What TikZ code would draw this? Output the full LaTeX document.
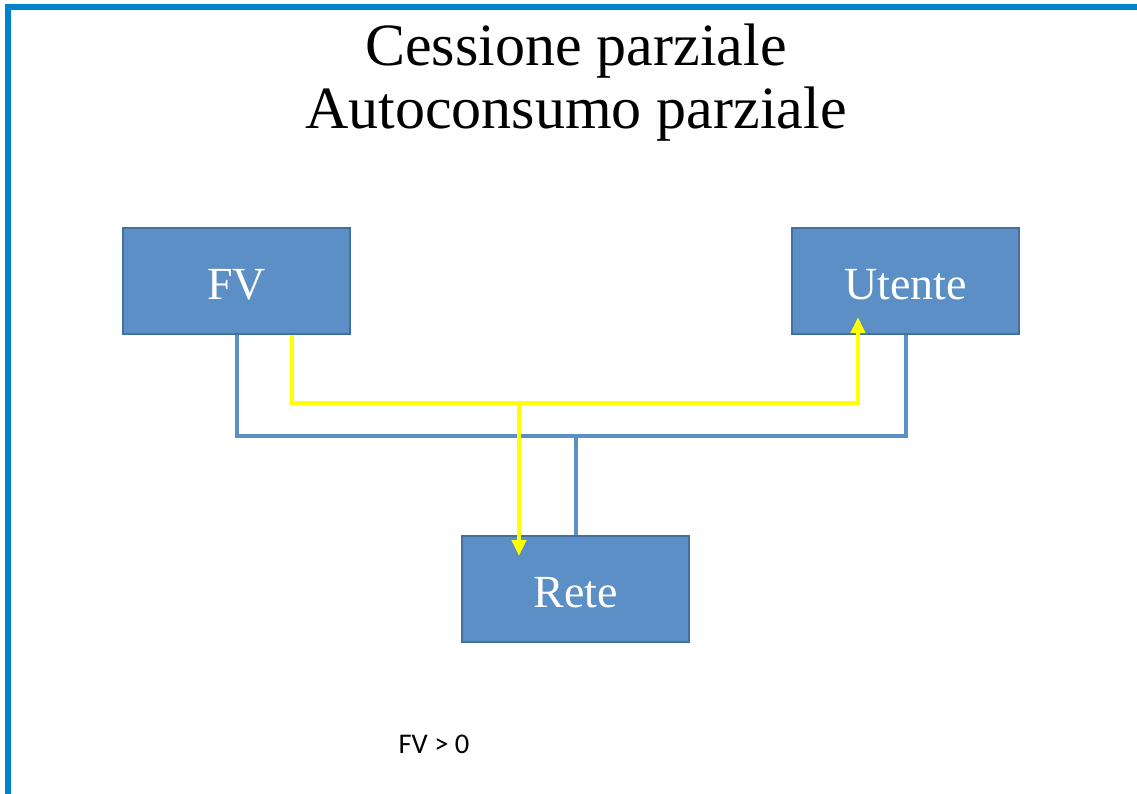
\documentclass[tikz,border=0pt]{standalone}
\usepackage{fontspec}
\setmainfont{Liberation Serif}
\newfontfamily\notefont{Carlito}
\usetikzlibrary{arrows.meta,calc}
\definecolor{frameblue}{HTML}{0083CA}
\definecolor{boxblue}{HTML}{5B8FC6}
\definecolor{boxedge}{HTML}{41719C}
\definecolor{flowyellow}{HTML}{FFFF00}

\begin{document}
\begin{tikzpicture}[x=1pt,y=-1pt,>={Triangle[width=14pt,length=16pt]},box/.style={draw=boxedge,line width=2pt,fill=boxblue,text=white,minimum width=227pt,minimum height=106pt,text height=36pt,text depth=0pt,font=\fontsize{46}{50}\selectfont},bus/.style={draw=boxblue,line width=4pt},flow/.style={draw=flowyellow,line width=4pt}]
\useasboundingbox (0,0) rectangle (1137,794);
\fill[frameblue] (5,4) rectangle (1137,10);
\fill[frameblue] (5,4) rectangle (11,794);
\node[align=center,font=\fontsize{60}{63}\selectfont] (title) at (576,83) {Cessione parziale\\Autoconsumo parziale};
\node[box] (fv) at (236.5,281) {FV};
\node[box] (utente) at (905.5,281) {Utente};
\node[box] (rete) at (575.5,589) {Rete};
\draw[bus] (fv.south) |- (utente.south |- 0,436) -- (utente.south);
\draw[bus] (rete.north) -- (rete.north |- 0,436);
\draw[flow,->] ([xshift=55.5pt]fv.south) |- ([xshift=-47.5pt]utente.south |- 0,403) -- ([xshift=-47.5pt,yshift=18pt]utente.south);
\draw[flow,->] ([xshift=-56.5pt]rete.north |- 0,403) -- ([xshift=-56.5pt,yshift=-21pt]rete.north);
\node[font=\notefont\fontsize{28.5}{31}\selectfont] (note) at (434,744) {FV > 0};
\end{tikzpicture}
\end{document}
